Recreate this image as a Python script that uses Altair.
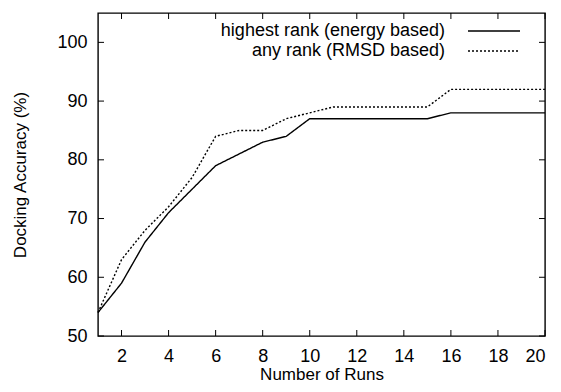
import altair as alt
import pandas as pd

runs = list(range(1, 21))
energy = [54, 59, 66, 71, 75, 79, 81, 83, 84, 87, 87, 87, 87, 87, 87, 88, 88, 88, 88, 88]
rmsd = [54, 63, 68, 72, 77, 84, 85, 85, 87, 88, 89, 89, 89, 89, 89, 92, 92, 92, 92, 92]
series_names = ["highest rank (energy based)", "any rank (RMSD based)"]
x_ticks = [2, 4, 6, 8, 10, 12, 14, 16, 18, 20]
y_ticks = [50, 60, 70, 80, 90, 100]

rows = []
for r, e, d in zip(runs, energy, rmsd):
    rows.append({"Runs": r, "Accuracy": e, "Series": series_names[0]})
    rows.append({"Runs": r, "Accuracy": d, "Series": series_names[1]})
df = pd.DataFrame(rows)

W, H = 447, 323
FONT = "Liberation Sans"
FS = 18
TL = 6

x_scale = alt.Scale(domain=[1, 20], nice=False, zero=False)
y_scale = alt.Scale(domain=[50, 105], nice=False, zero=False)

x_enc = alt.X("Runs:Q", scale=x_scale,
              axis=alt.Axis(values=x_ticks, title="Number of Runs", grid=False, ticks=False,
                            labelPadding=11, titlePadding=1, format="d"))
y_enc = alt.Y("Accuracy:Q", scale=y_scale,
              axis=alt.Axis(values=y_ticks, title="Docking Accuracy (%)", grid=False, ticks=False,
                            labelPadding=11, titlePadding=27, format="d"))

lines = alt.Chart(df).mark_line(color="black", strokeWidth=1.4).encode(
    x=x_enc, y=y_enc,
    strokeDash=alt.StrokeDash(
        "Series:N",
        scale=alt.Scale(domain=series_names, range=[[1, 0], [2, 2]]),
        legend=alt.Legend(
            title=None, orient="none", legendX=385, legendY=7,
            symbolType="M-2.6,0H2.6", symbolSize=400, symbolStrokeWidth=1.4,
            symbolStrokeColor="black", labelAlign="right", labelOffset={"expr": "-60"},
            labelFontSize=FS, labelFont=FONT, labelLimit=400, labelColor="black",
            rowPadding=0, padding=0,
        ),
    ),
    order="Runs:Q",
)

xt = pd.DataFrame({"Runs": x_ticks})
yt = pd.DataFrame({"Accuracy": y_ticks})

xb = alt.Chart(xt).mark_rule(color="black", strokeWidth=1).encode(
    x=x_enc, y=alt.value(H), y2=alt.value(H - TL))
xtop = alt.Chart(xt).mark_rule(color="black", strokeWidth=1).encode(
    x=x_enc, y=alt.value(0), y2=alt.value(TL))
yl = alt.Chart(yt).mark_rule(color="black", strokeWidth=1).encode(
    y=y_enc, x=alt.value(0), x2=alt.value(TL))
yr = alt.Chart(yt).mark_rule(color="black", strokeWidth=1).encode(
    y=y_enc, x=alt.value(W - TL), x2=alt.value(W))

chart = alt.layer(lines, xb, xtop, yl, yr).properties(
    width=W, height=H,
    autosize=alt.AutoSizeParams(type="none"),
    padding={"left": 90, "top": 5, "right": 8, "bottom": 48},
).configure_view(stroke="black", strokeWidth=1.4).configure_axis(
    domain=False, labelFont=FONT, labelFontSize=FS, labelColor="black",
    titleFont=FONT, titleFontSize=17, titleFontWeight="normal", titleColor="black",
)

chart.save("out.html", embed_options={"renderer": "svg", "actions": False})
